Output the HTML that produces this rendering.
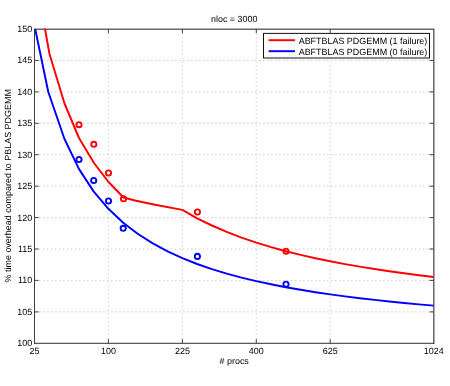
<!DOCTYPE html><html><head><meta charset="utf-8"><style>html,body{margin:0;padding:0;background:#fff}svg{display:block}text{font-family:"Liberation Sans",sans-serif;font-size:8.95px;fill:#000;text-rendering:geometricPrecision}</style></head><body>
<svg width="450" height="386" viewBox="0 0 450 386">
<rect width="450" height="386" fill="#fff"/>
<defs><clipPath id="c"><rect x="34.5" y="28.5" width="399.2" height="314.8"/></clipPath></defs>
<g stroke="#a8a8a8" stroke-dasharray="1 3" fill="none"><line x1="108.4" y1="29.6" x2="108.4" y2="343.3" stroke-width="0.75"/><line x1="182.4" y1="29.6" x2="182.4" y2="343.3" stroke-width="0.75"/><line x1="256.3" y1="29.6" x2="256.3" y2="343.3" stroke-width="0.75"/><line x1="330.2" y1="29.6" x2="330.2" y2="343.3" stroke-width="0.75"/><line x1="35.0" y1="311.9" x2="433.7" y2="311.9" stroke-width="0.6" stroke-dasharray="1.5 2.5"/><line x1="35.0" y1="280.4" x2="433.7" y2="280.4" stroke-width="0.6" stroke-dasharray="1.5 2.5"/><line x1="35.0" y1="249.0" x2="433.7" y2="249.0" stroke-width="0.6" stroke-dasharray="1.5 2.5"/><line x1="35.0" y1="217.6" x2="433.7" y2="217.6" stroke-width="0.6" stroke-dasharray="1.5 2.5"/><line x1="35.0" y1="186.2" x2="433.7" y2="186.2" stroke-width="0.6" stroke-dasharray="1.5 2.5"/><line x1="35.0" y1="154.7" x2="433.7" y2="154.7" stroke-width="0.6" stroke-dasharray="1.5 2.5"/><line x1="35.0" y1="123.3" x2="433.7" y2="123.3" stroke-width="0.6" stroke-dasharray="1.5 2.5"/><line x1="35.0" y1="91.9" x2="433.7" y2="91.9" stroke-width="0.6" stroke-dasharray="1.5 2.5"/><line x1="35.0" y1="60.4" x2="433.7" y2="60.4" stroke-width="0.6" stroke-dasharray="1.5 2.5"/></g>
<g fill="none">
<line x1="34.1" y1="29.2" x2="434.3" y2="29.2" stroke="#686868" stroke-width="1.45"/><line x1="433.8" y1="29.0" x2="433.8" y2="343.7" stroke="#555" stroke-width="1.35"/>
<line x1="34.1" y1="343.3" x2="434.3" y2="343.3" stroke="#1a1a1a" stroke-width="0.9"/><line x1="34.5" y1="29.0" x2="34.5" y2="343.7" stroke="#1a1a1a" stroke-width="0.85"/>
</g>
<g stroke="#444" stroke-width="1" fill="none">
<line x1="108.4" y1="343.3" x2="108.4" y2="339.1"/><line x1="108.4" y1="29.0" x2="108.4" y2="33.2"/>
<line x1="182.4" y1="343.3" x2="182.4" y2="339.1"/><line x1="182.4" y1="29.0" x2="182.4" y2="33.2"/>
<line x1="256.3" y1="343.3" x2="256.3" y2="339.1"/><line x1="256.3" y1="29.0" x2="256.3" y2="33.2"/>
<line x1="330.2" y1="343.3" x2="330.2" y2="339.1"/><line x1="330.2" y1="29.0" x2="330.2" y2="33.2"/>
<line x1="34.5" y1="311.9" x2="38.7" y2="311.9"/><line x1="433.7" y1="311.9" x2="429.5" y2="311.9"/>
<line x1="34.5" y1="280.4" x2="38.7" y2="280.4"/><line x1="433.7" y1="280.4" x2="429.5" y2="280.4"/>
<line x1="34.5" y1="249.0" x2="38.7" y2="249.0"/><line x1="433.7" y1="249.0" x2="429.5" y2="249.0"/>
<line x1="34.5" y1="217.6" x2="38.7" y2="217.6"/><line x1="433.7" y1="217.6" x2="429.5" y2="217.6"/>
<line x1="34.5" y1="186.2" x2="38.7" y2="186.2"/><line x1="433.7" y1="186.2" x2="429.5" y2="186.2"/>
<line x1="34.5" y1="154.7" x2="38.7" y2="154.7"/><line x1="433.7" y1="154.7" x2="429.5" y2="154.7"/>
<line x1="34.5" y1="123.3" x2="38.7" y2="123.3"/><line x1="433.7" y1="123.3" x2="429.5" y2="123.3"/>
<line x1="34.5" y1="91.9" x2="38.7" y2="91.9"/><line x1="433.7" y1="91.9" x2="429.5" y2="91.9"/>
<line x1="34.5" y1="60.4" x2="38.7" y2="60.4"/><line x1="433.7" y1="60.4" x2="429.5" y2="60.4"/>
</g>
<g clip-path="url(#c)" fill="none" stroke-width="1.95" stroke-linejoin="round">
<path d="M40.5,4.0 L45.0,29.0 L49.5,54.0 L64.5,103.5 L79.0,138.0 L94.0,163.0 L108.5,182.0 L123.5,197.5 L135.0,200.5 L155.0,204.8 L182.4,209.9 L197.1,218.3 L211.9,225.5 L226.7,231.9 L241.5,237.6 L256.3,242.6 L271.1,247.1 L285.8,251.2 L300.6,254.9 L315.4,258.2 L330.2,261.3 L345.0,264.1 L359.8,266.6 L374.6,269.0 L389.3,271.2 L404.1,273.3 L418.9,275.2 L433.7,277.0" stroke="#f00"/>
<path d="M35.2,29.0 L48.3,92.0 L64.5,139.0 L78.9,168.9 L93.6,191.4 L108.4,208.8 L123.2,222.7 L138.0,234.0 L152.8,243.4 L167.6,251.4 L182.4,258.1 L197.1,264.0 L211.9,269.1 L226.7,273.6 L241.5,277.6 L256.3,281.1 L271.1,284.3 L285.8,287.2 L300.6,289.8 L315.4,292.2 L330.2,294.4 L345.0,296.4 L359.8,298.2 L374.6,299.9 L389.3,301.5 L404.1,303.0 L418.9,304.4 L433.7,305.6" stroke="#00f"/>
</g>
<circle cx="79" cy="124.7" r="2.6" fill="none" stroke="#f00" stroke-width="1.9"/>
<circle cx="93.8" cy="144.3" r="2.6" fill="none" stroke="#f00" stroke-width="1.9"/>
<circle cx="108.5" cy="173" r="2.6" fill="none" stroke="#f00" stroke-width="1.9"/>
<circle cx="123.5" cy="198.8" r="2.6" fill="none" stroke="#f00" stroke-width="1.9"/>
<circle cx="197.4" cy="212" r="2.6" fill="none" stroke="#f00" stroke-width="1.9"/>
<circle cx="286" cy="251.2" r="2.6" fill="none" stroke="#f00" stroke-width="1.9"/>
<circle cx="79" cy="159.5" r="2.6" fill="none" stroke="#00f" stroke-width="1.9"/>
<circle cx="93.7" cy="180.5" r="2.6" fill="none" stroke="#00f" stroke-width="1.9"/>
<circle cx="108.5" cy="201" r="2.6" fill="none" stroke="#00f" stroke-width="1.9"/>
<circle cx="123.2" cy="228.3" r="2.6" fill="none" stroke="#00f" stroke-width="1.9"/>
<circle cx="197.4" cy="256.4" r="2.6" fill="none" stroke="#00f" stroke-width="1.9"/>
<circle cx="286" cy="284.2" r="2.6" fill="none" stroke="#00f" stroke-width="1.9"/>
<rect x="263.5" y="33.4" width="166" height="24.6" fill="#fff" stroke="#111" stroke-width="1"/>
<line x1="268.6" y1="40.2" x2="295" y2="40.2" stroke="#f00" stroke-width="1.95"/>
<line x1="268.6" y1="51.2" x2="295" y2="51.2" stroke="#00f" stroke-width="1.95"/>
<filter id="gs" x="0" y="0" width="450" height="386" filterUnits="userSpaceOnUse" color-interpolation-filters="sRGB"><feColorMatrix type="saturate" values="0"/></filter><g filter="url(#gs)">
<text x="34.5" y="354" text-anchor="middle">25</text>
<text x="108.4" y="354" text-anchor="middle">100</text>
<text x="182.4" y="354" text-anchor="middle">225</text>
<text x="256.3" y="354" text-anchor="middle">400</text>
<text x="330.2" y="354" text-anchor="middle">625</text>
<text x="433.7" y="354" text-anchor="middle">1024</text>
<text x="32.2" y="346.3" text-anchor="end">100</text>
<text x="32.2" y="314.9" text-anchor="end">105</text>
<text x="32.2" y="283.4" text-anchor="end">110</text>
<text x="32.2" y="252.0" text-anchor="end">115</text>
<text x="32.2" y="220.6" text-anchor="end">120</text>
<text x="32.2" y="189.2" text-anchor="end">125</text>
<text x="32.2" y="157.7" text-anchor="end">130</text>
<text x="32.2" y="126.3" text-anchor="end">135</text>
<text x="32.2" y="94.9" text-anchor="end">140</text>
<text x="32.2" y="63.4" text-anchor="end">145</text>
<text x="32.2" y="32.0" text-anchor="end">150</text>
<text x="234.2" y="22" text-anchor="middle">nloc = 3000</text>
<text x="234.2" y="364" text-anchor="middle">#&#160;procs</text>
<text transform="translate(11.3,185.8) rotate(-90)" text-anchor="middle">% time overhead compared to PBLAS PDGEMM</text>
<text x="298.7" y="43.7">ABFTBLAS PDGEMM (1 failure)</text>
<text x="298.7" y="54.7">ABFTBLAS PDGEMM (0 failure)</text>
</g>
</svg></body></html>
